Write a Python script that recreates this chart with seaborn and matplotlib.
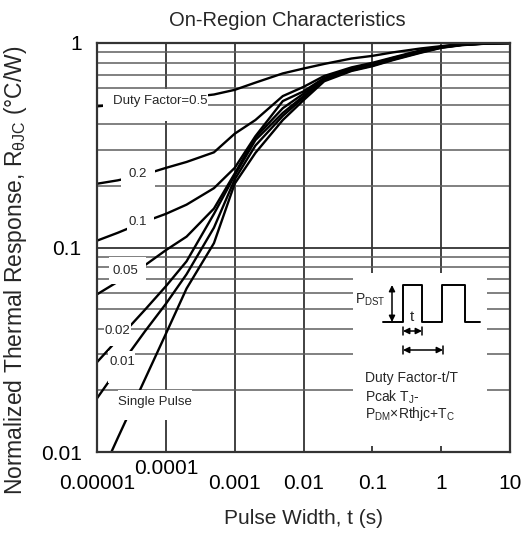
import numpy as np
import pandas as pd
import matplotlib
matplotlib.use("Agg")
import matplotlib.pyplot as plt
from matplotlib.patches import Rectangle
from matplotlib.ticker import LogLocator, NullFormatter
import seaborn as sns

# pulse width (s) and normalized thermal response for each duty factor
pulse_width = [1e-5, 2e-5, 5e-5, 1e-4, 2e-4, 5e-4, 1e-3, 2e-3, 5e-3,
               1e-2, 2e-2, 5e-2, 0.1, 0.2, 0.5, 1, 2, 5, 10]

z_d05 = [0.49, 0.50, 0.515, 0.525, 0.54, 0.56, 0.59, 0.64, 0.71, 0.75,
         0.79, 0.84, 0.865, 0.90, 0.94, 0.965, 0.99, 1.0, 1.0]
z_d02 = [0.205, 0.213, 0.228, 0.245, 0.262, 0.292, 0.36, 0.42, 0.55, 0.61,
         0.69, 0.76, 0.80, 0.85, 0.92, 0.96, 0.985, 0.998, 1.0]
z_d01 = [0.108, 0.118, 0.134, 0.146, 0.162, 0.195, 0.245, 0.35, 0.52, 0.58,
         0.675, 0.75, 0.79, 0.845, 0.915, 0.957, 0.983, 0.997, 1.0]
z_d005 = [0.059, 0.068, 0.082, 0.097, 0.113, 0.155, 0.23, 0.345, 0.48, 0.565,
          0.67, 0.745, 0.785, 0.84, 0.91, 0.955, 0.982, 0.997, 1.0]
z_d002 = [0.0275, 0.0355, 0.0497, 0.0646, 0.0856, 0.146, 0.225, 0.335, 0.455, 0.55,
          0.665, 0.74, 0.78, 0.835, 0.905, 0.952, 0.98, 0.996, 1.0]
z_d001 = [0.0183, 0.0255, 0.039, 0.053, 0.074, 0.125, 0.215, 0.315, 0.44, 0.54,
          0.66, 0.735, 0.775, 0.83, 0.90, 0.95, 0.978, 0.996, 1.0]
z_single = [0.0070, 0.0117, 0.0228, 0.0378, 0.063, 0.105, 0.205, 0.29, 0.42, 0.525,
            0.65, 0.73, 0.77, 0.825, 0.895, 0.947, 0.976, 0.995, 1.0]

curve_names = ["0.5", "0.2", "0.1", "0.05", "0.02", "0.01", "Single Pulse"]
curve_values = [z_d05, z_d02, z_d01, z_d005, z_d002, z_d001, z_single]

x_ticks = [1e-5, 1e-4, 1e-3, 1e-2, 1e-1, 1, 10]
x_tick_labels = ["0.00001", "0.0001", "0.001", "0.01", "0.1", "1", "10"]
y_ticks = [0.01, 0.1, 1]
y_tick_labels = ["0.01", "0.1", "1"]

df = pd.concat([pd.DataFrame({"t": pulse_width, "z": v, "duty": n})
                for n, v in zip(curve_names, curve_values)], ignore_index=True)

sns.set_style("white")
plt.rcParams["font.family"] = ["Liberation Sans", "DejaVu Sans"]
plt.rcParams["mathtext.fontset"] = "custom"
plt.rcParams["mathtext.rm"] = "Liberation Sans"
plt.rcParams["mathtext.it"] = "Liberation Sans:italic"
plt.rcParams["mathtext.bf"] = "Liberation Sans:bold"

W, H = 529, 536
fig = plt.figure(figsize=(W / 100, H / 100), dpi=100)
L, R, T, B = 97, 510, 43, 452
ax = fig.add_axes([L / W, 1 - B / H, (R - L) / W, (B - T) / H])

sns.lineplot(data=df, x="t", y="z", hue="duty", palette=["black"] * len(curve_names),
             estimator=None, legend=False, lw=1.7, ax=ax, zorder=2)

ax.set_xscale("log")
ax.set_yscale("log")
ax.set_xlim(1e-5, 10)
ax.set_ylim(0.01, 1)
ax.set_xticks(x_ticks)
ax.set_xticklabels(x_tick_labels)
ax.set_yticks(y_ticks)
ax.set_yticklabels(y_tick_labels)
ax.xaxis.set_minor_locator(LogLocator(base=10, subs=np.arange(2, 10)))
ax.yaxis.set_minor_locator(LogLocator(base=10, subs=np.arange(2, 10)))
ax.xaxis.set_minor_formatter(NullFormatter())
ax.yaxis.set_minor_formatter(NullFormatter())
ax.set_axisbelow(True)
ax.grid(which="major", color="#333333", lw=1.3)
ax.grid(which="minor", color="#5e5e5e", lw=1.1)
for s in ax.spines.values():
    s.set_color("#333333")
    s.set_linewidth(1.6)
ax.tick_params(which="both", length=0, labelsize=15, colors="black")
ax.tick_params(axis="x", pad=16)
ax.tick_params(axis="y", pad=11)

ax.set_title("On-Region Characteristics", fontsize=14.5, pad=12, x=0.462)
ax.set_xlabel("Pulse Width, t (s)", fontsize=15, labelpad=11)
ax.set_ylabel(r"Normalized Thermal Response, R$_{\mathrm{θJC}}$ (°C/W)", fontsize=16.5)
ax.yaxis.set_label_coords((29 - L) / (R - L), (B - 270) / (B - T))


def px_box(x0, y0, x1, y1):
    # white label box given in figure pixels
    ax.add_patch(Rectangle(((x0 - L) / (R - L), (B - y1) / (B - T)),
                           (x1 - x0) / (R - L), (y1 - y0) / (B - T),
                           transform=ax.transAxes, facecolor="white",
                           edgecolor="none", zorder=3))


def px_text(x, y, s, size=9.5):
    ax.text((x - L) / (R - L), (B - y) / (B - T), s, transform=ax.transAxes,
            ha="center", va="center", fontsize=size, zorder=4)


labels = [
    ((103, 89, 208, 121), (160, 101), "Duty Factor=0.5"),
    ((121, 160, 155, 188), (138, 174), "0.2"),
    ((127, 208, 154, 236), (138, 222), "0.1"),
    ((109, 257, 146, 284), (125, 271), "0.05"),
    ((104, 320, 131, 346), (117, 331), "0.02"),
    ((108, 351, 135, 383), (122, 362), "0.01"),
    ((118, 390, 192, 420), (155, 402), "Single Pulse"),
]
for box, pos, s in labels:
    px_box(*box)
    px_text(pos[0], pos[1], s)

# inset with the pulse diagram
ix0, iy0, ix1, iy1 = 353, 273, 487, 446
ax_in = fig.add_axes([ix0 / W, 1 - iy1 / H, (ix1 - ix0) / W, (iy1 - iy0) / H])
ax_in.set_facecolor("white")
ax_in.set_xlim(0, ix1 - ix0)
ax_in.set_ylim(iy1 - iy0, 0)
ax_in.set_xticks([])
ax_in.set_yticks([])
for s in ax_in.spines.values():
    s.set_visible(False)

wave_x = [30, 50, 50, 69, 69, 89, 89, 112, 112, 127]
wave_y = [49, 49, 12, 12, 49, 49, 12, 12, 49, 49]
ax_in.plot(wave_x, wave_y, color="black", lw=1.4)
arrow = dict(arrowstyle="<|-|>", color="black", lw=1.1, mutation_scale=9,
             shrinkA=0, shrinkB=0)
ax_in.annotate("", xy=(39, 12), xytext=(39, 49), arrowprops=arrow)
ax_in.annotate("", xy=(50, 58), xytext=(69, 58), arrowprops=arrow)
ax_in.annotate("", xy=(50, 77), xytext=(90, 77), arrowprops=arrow)
for xx, yy in [(50, 58), (69, 58), (50, 77), (90, 77)]:
    ax_in.plot([xx, xx], [yy - 4, yy + 4], color="black", lw=1.1)

ax_in.text(2, 27, r"P$_{\mathrm{DST}}$", ha="left", va="center", fontsize=10)
ax_in.text(59, 44, "t", ha="center", va="center", fontsize=11)
ax_in.text(12, 105, "Duty Factor-t/T", ha="left", va="center", fontsize=10)
ax_in.text(12, 124, r"Pcak T$_{\mathrm{J}}$-", ha="left", va="center", fontsize=10)
ax_in.text(12, 141, r"P$_{\mathrm{DM}}$×Rthjc+T$_{\mathrm{C}}$", ha="left", va="center", fontsize=10)

# raise the 0.0001 label as in the original
ax.xaxis.get_major_ticks()[1].set_pad(5)

fig.savefig("out.png", dpi=100)
